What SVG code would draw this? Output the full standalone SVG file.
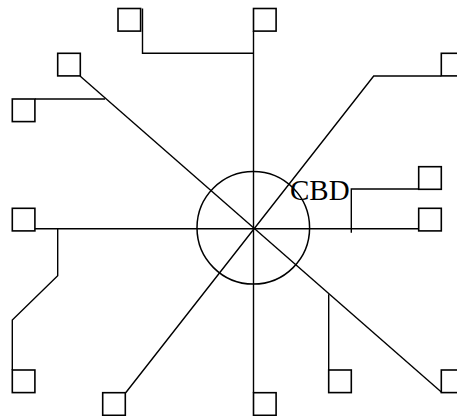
<svg xmlns="http://www.w3.org/2000/svg" width="457" height="416" viewBox="0 0 457 416">
<style>
.sq{fill:#fff;stroke:#000;stroke-width:1.6}
.ln{fill:none;stroke:#000;stroke-width:1.4;stroke-linejoin:miter}
.lbl{font-family:"Liberation Serif","Times New Roman",serif;font-size:29px;fill:#000}
</style>
<rect width="457" height="416" fill="#fff"/>
<g id="connectors" class="ln">
<path d="M142.5,8.5 V53.3 H253.5"/>
<path d="M253.5,31 V392.7"/>
<path d="M80,76 L441.3,392"/>
<path d="M35,99 H105"/>
<path d="M441.3,76 H373.7 L125.7,392.7"/>
<path d="M35,228.7 H418.7"/>
<path d="M418.7,189 H351.3 V232.7"/>
<path d="M57.7,228.7 V275.7 L12.3,320 V370"/>
<path d="M328.7,294.3 V370"/>
</g>
<g id="cbd">
<circle cx="253.3" cy="227.8" r="56.3" fill="none" stroke="#000" stroke-width="1.5"/>
<text class="lbl" x="290" y="199.5">CBD</text>
</g>
<g id="n1"><rect class="sq" x="118" y="8.5" width="22.6" height="22.6"/></g>
<g id="n2"><rect class="sq" x="253.5" y="8.5" width="22.6" height="22.6"/></g>
<g id="n3"><rect class="sq" x="57.7" y="53.3" width="22.6" height="22.6"/></g>
<g id="n4"><rect class="sq" x="441.3" y="53.3" width="22.6" height="22.6"/></g>
<g id="n5"><rect class="sq" x="12.3" y="99" width="22.6" height="22.6"/></g>
<g id="n6"><rect class="sq" x="418.7" y="166.7" width="22.6" height="22.6"/></g>
<g id="n7"><rect class="sq" x="12.3" y="208.3" width="22.6" height="22.6"/></g>
<g id="n8"><rect class="sq" x="418.7" y="208.3" width="22.6" height="22.6"/></g>
<g id="n9"><rect class="sq" x="12.3" y="370" width="22.6" height="22.6"/></g>
<g id="n10"><rect class="sq" x="328.7" y="370" width="22.6" height="22.6"/></g>
<g id="n11"><rect class="sq" x="441.3" y="370" width="22.6" height="22.6"/></g>
<g id="n12"><rect class="sq" x="102.7" y="392.7" width="22.6" height="22.6"/></g>
<g id="n13"><rect class="sq" x="253.5" y="392.7" width="22.6" height="22.6"/></g>
</svg>
